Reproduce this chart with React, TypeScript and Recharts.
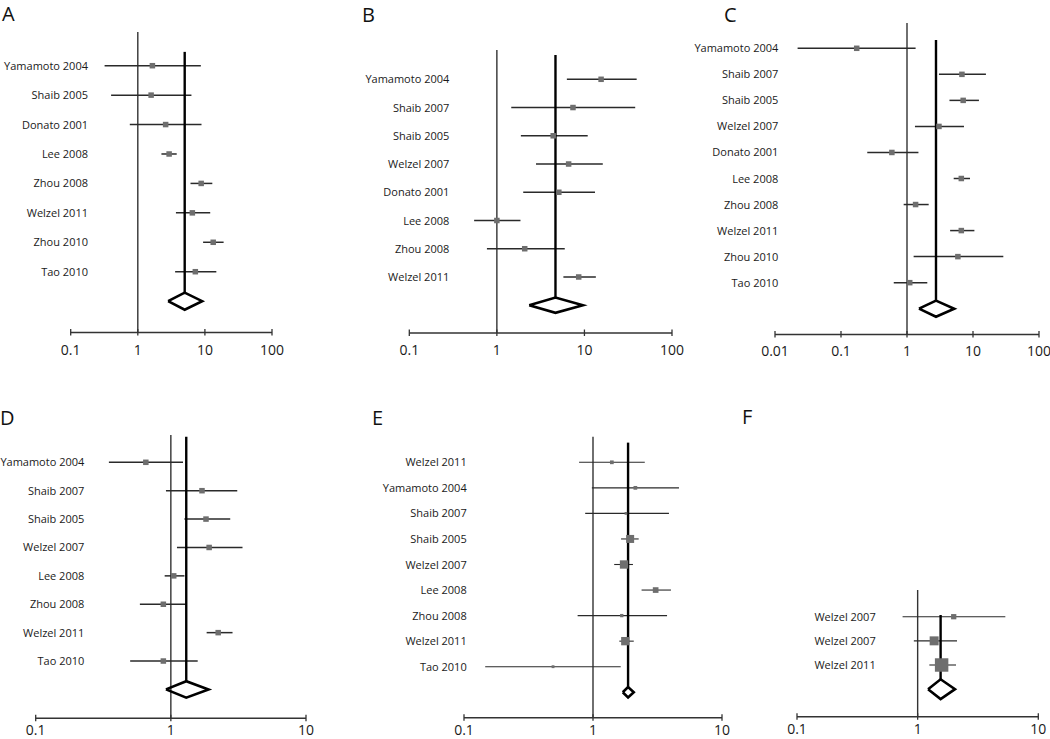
import React from "react";
import { ScatterChart, Scatter, XAxis, YAxis, ReferenceLine } from "recharts";

// A
const studiesA = ["Yamamoto 2004", "Shaib 2005", "Donato 2001", "Lee 2008", "Zhou 2008", "Welzel 2011", "Zhou 2010", "Tao 2010"];
const orA = [1.65, 1.58, 2.6, 2.93, 8.8, 6.5, 13.3, 7.2];
const lowA = [0.32, 0.4, 0.76, 2.25, 6.1, 3.7, 9.4, 3.6];
const highA = [8.7, 6.3, 8.9, 3.8, 12.9, 12, 19, 14.8];
const pooledA = [5.0, 2.83, 9.1];
const ticksA = [0.1, 1, 10, 100];

// B
const studiesB = ["Yamamoto 2004", "Shaib 2007", "Shaib 2005", "Welzel 2007", "Donato 2001", "Lee 2008", "Zhou 2008", "Welzel 2011"];
const orB = [15.5, 7.4, 4.4, 6.6, 5.1, 1.0, 2.08, 8.6];
const lowB = [6.3, 1.46, 1.88, 2.8, 2.0, 0.55, 0.77, 5.75];
const highB = [39.5, 38, 10.9, 16.2, 13.2, 1.86, 5.96, 13.5];
const pooledB = [4.67, 2.34, 9.6];
const ticksB = [0.1, 1, 10, 100];

// C
const studiesC = ["Yamamoto 2004", "Shaib 2007", "Shaib 2005", "Welzel 2007", "Donato 2001", "Lee 2008", "Zhou 2008", "Welzel 2011", "Zhou 2010", "Tao 2010"];
const orC = [0.173, 6.8, 7.1, 3.05, 0.59, 6.65, 1.35, 6.65, 5.9, 1.1];
const lowC = [0.022, 3.05, 4.4, 1.32, 0.25, 5.1, 0.89, 4.5, 1.26, 0.63];
const highC = [1.35, 15.7, 12.3, 7.3, 1.49, 9.0, 2.13, 10.5, 28.8, 2.03];
const pooledC = [2.75, 1.52, 5.2];
const ticksC = [0.01, 0.1, 1, 10, 100];

// D
const studiesD = ["Yamamoto 2004", "Shaib 2007", "Shaib 2005", "Welzel 2007", "Lee 2008", "Zhou 2008", "Welzel 2011", "Tao 2010"];
const orD = [0.653, 1.7, 1.82, 1.92, 1.05, 0.88, 2.24, 0.88];
const lowD = [0.348, 0.92, 1.26, 1.11, 0.9, 0.59, 1.84, 0.5];
const highD = [1.23, 3.1, 2.75, 3.39, 1.26, 1.3, 2.86, 1.58];
const pooledD = [1.3, 0.92, 1.9];
const ticksD = [0.1, 1, 10];

// E
const studiesE = ["Welzel 2011", "Yamamoto 2004", "Shaib 2007", "Shaib 2005", "Welzel 2007", "Lee 2008", "Zhou 2008", "Welzel 2011", "Tao 2010"];
const orE = [1.4, 2.13, 1.8, 1.94, 1.74, 3.06, 1.67, 1.78, 0.49];
const lowE = [0.78, 0.98, 0.87, 1.65, 1.46, 2.38, 0.76, 1.6, 0.146];
const highE = [2.52, 4.64, 3.88, 2.26, 2.04, 4.02, 3.75, 2.07, 1.64];
const weightE = [4.8, 4.8, 2.5, 22.2, 24, 11.1, 3.8, 24, 2.8];
const pooledE = [1.87, 1.7, 2.07];
const ticksE = [0.1, 1, 10];

// F
const studiesF = ["Welzel 2007", "Welzel 2007", "Welzel 2011"];
const orF = [1.99, 1.37, 1.58];
const lowF = [0.75, 0.93, 1.25];
const highF = [5.33, 2.12, 2.08];
const weightF = [9.6, 27.8, 62.6];
const pooledF = [1.55, 1.22, 2.04];
const ticksF = [0.1, 1, 10];

const FONT = "'Open Sans', 'DejaVu Sans', sans-serif";

const panels = [
  { letter: "A", lx: 2, lb: 21.5, box: [0, 0, 345, 365], xs: [70.7, 272], ys: [32, 332.5], row1: 65.7, gap: 29.43, labelRight: 88,
    ticks: ticksA, names: studiesA, or: orA, lo: lowA, hi: highA, pooled: pooledA, weight: null, sumTop: 0.53, dh: 0.29, ci: 1.5, tickDy: 22 },
  { letter: "B", lx: 362, lb: 22, box: [350, 0, 345, 365], xs: [409.3, 672], ys: [50, 333], row1: 79.3, gap: 28.24, labelRight: 449.3,
    ticks: ticksB, names: studiesB, or: orB, lo: lowB, hi: highB, pooled: pooledB, weight: null, sumTop: 0.14, dh: 0.27, ci: 1.5, tickDy: 22 },
  { letter: "C", lx: 724, lb: 22, box: [690, 0, 360, 365], xs: [775, 1039], ys: [23, 334.5], row1: 48.3, gap: 26.04, labelRight: 778.3,
    ticks: ticksC, names: studiesC, or: orC, lo: lowC, hi: highC, pooled: pooledC, weight: null, sumTop: 0.68, dh: 0.31, ci: 1.5, tickDy: 21 },
  { letter: "D", lx: 0, lb: 425, box: [0, 370, 345, 369], xs: [35.7, 306], ys: [435, 718.3], row1: 462.3, gap: 28.39, labelRight: 84.3,
    ticks: ticksD, names: studiesD, or: orD, lo: lowD, hi: highD, pooled: pooledD, weight: null, sumTop: 0.1, dh: 0.29, ci: 1.5, tickDy: 17 },
  { letter: "E", lx: 372, lb: 425, box: [350, 370, 385, 369], xs: [464, 722], ys: [436.7, 717.7], row1: 462.3, gap: 25.55, labelRight: 466.7,
    ticks: ticksE, names: studiesE, or: orE, lo: lowE, hi: highE, pooled: pooledE, weight: weightE, sumTop: 0.23, dh: 0.2, ci: 1.1, tickDy: 17 },
  { letter: "F", lx: 742, lb: 424, box: [740, 370, 310, 369], xs: [797, 1038.3], ys: [590, 716.7], row1: 616.7, gap: 24.15, labelRight: 875.7,
    ticks: ticksF, names: studiesF, or: orF, lo: lowF, hi: highF, pooled: pooledF, weight: weightF, sumTop: 0.93, dh: 0.41, ci: 1.1, tickDy: 17 },
];

function ForestPanel({ p }: { p: any }) {
  const [bl, bt, bw, bh] = p.box;
  const [xL, xR] = p.xs;
  const [yT, yB] = p.ys;
  const n = p.names.length;
  const YW = 10;
  const XH = 30;
  const d0 = 1 - (p.row1 - yT) / p.gap;
  const d1 = 1 + (yB - p.row1) / p.gap;
  const margin = { left: xL - bl - YW, right: bl + bw - xR, top: yT - bt, bottom: bt + bh - yB - XH };
  const points = p.names.map((name: string, i: number) => ({
    name,
    x: p.or[i],
    y: i + 1,
    w: p.weight ? p.weight[i] : 0,
  }));
  const rowTicks = points.map((d: any) => d.y);
  const [est, plo, phi] = p.pooled;
  const dy = n + 1;
  const diamond = [
    { x: plo, y: dy },
    { x: est, y: dy - p.dh },
    { x: phi, y: dy },
    { x: est, y: dy + p.dh },
    { x: plo, y: dy },
  ];
  const shift = p.labelRight - xL;

  return (
    <div style={{ position: "absolute", left: bl, top: bt, width: bw, height: bh }}>
      <ScatterChart width={bw} height={bh} margin={margin} style={{ overflow: "visible" }}>
        <XAxis
          type="number"
          dataKey="x"
          scale="log"
          domain={[p.ticks[0], p.ticks[p.ticks.length - 1]]}
          allowDataOverflow
          ticks={p.ticks}
          interval={0}
          height={XH}
          axisLine={{ stroke: "#333", strokeWidth: 1.4 }}
          tickLine={false}
          tickSize={0}
          tickMargin={0}
          tick={(t: any) => (
            <g>
              <line x1={t.x} x2={t.x} y1={t.y - 3.5} y2={t.y + 3} stroke="#333" strokeWidth={1.3} />
              <text x={t.x} y={t.y + p.tickDy} textAnchor="middle" fontSize={14} fontFamily={FONT} fill="#1a1a1a">
                {String(t.payload.value)}
              </text>
            </g>
          )}
        />
        <YAxis
          type="number"
          dataKey="y"
          domain={[d0, d1]}
          reversed
          allowDataOverflow
          ticks={rowTicks}
          interval={0}
          width={YW}
          axisLine={false}
          tickLine={false}
          tickSize={0}
          tickMargin={0}
          tick={(t: any) => (
            <text x={t.x + shift} y={t.y} dy={4} textAnchor="end" fontSize={11} fontFamily={FONT} fill="#1a1a1a">
              {p.names[t.payload.value - 1]}
            </text>
          )}
        />
        <ReferenceLine x={1} stroke="#333" strokeWidth={1.4} ifOverflow="visible" />
        {points.map((d: any, i: number) => (
          <ReferenceLine
            key={"ci" + i}
            segment={[
              { x: p.lo[i], y: d.y },
              { x: p.hi[i], y: d.y },
            ]}
            stroke="#2a2a2a"
            strokeWidth={p.ci}
            ifOverflow="visible"
          />
        ))}
        <ReferenceLine
          segment={[
            { x: est, y: p.sumTop },
            { x: est, y: dy - p.dh },
          ]}
          stroke="#000"
          strokeWidth={2.4}
          ifOverflow="visible"
        />
        <Scatter
          data={diamond}
          line={{ stroke: "#000", strokeWidth: 2.6 }}
          lineType="joint"
          lineJointType="linear"
          shape={() => <g />}
          isAnimationActive={false}
        />
        <Scatter
          data={points}
          isAnimationActive={false}
          shape={(s: any) => {
            const size = s.payload.w ? 1.7 * Math.sqrt(s.payload.w) : 5.5;
            return <rect x={s.cx - size / 2} y={s.cy - size / 2} width={size} height={size} fill="#6e6e6e" />;
          }}
        />
      </ScatterChart>
    </div>
  );
}

export default function App() {
  return (
    <div style={{ position: "absolute", left: 0, top: 0, width: 1050, height: 739, background: "#fff", overflow: "hidden" }}>
      {panels.map((p) => (
        <ForestPanel key={p.letter} p={p} />
      ))}
      {panels.map((p) => (
        <div
          key={"l" + p.letter}
          style={{
            position: "absolute",
            left: p.lx,
            top: p.lb - 21.4,
            fontSize: 20,
            lineHeight: "normal",
            fontFamily: FONT,
            color: "#111",
          }}
        >
          {p.letter}
        </div>
      ))}
    </div>
  );
}
